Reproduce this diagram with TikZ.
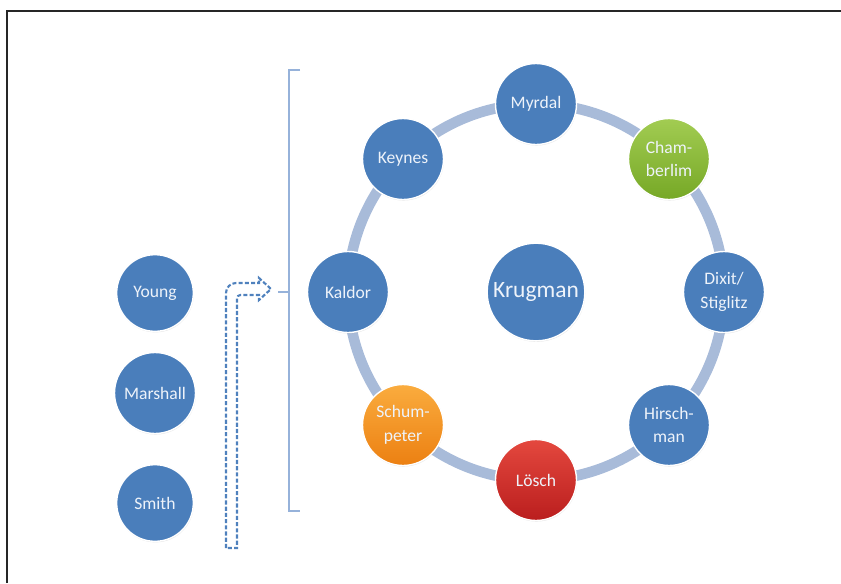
\documentclass[tikz,border=0pt]{standalone}
\usepackage{fontspec}
\setmainfont{Carlito}
\usetikzlibrary{positioning, shadows}
\definecolor{ballblue}{RGB}{74,126,187}
\definecolor{ringblue}{RGB}{168,187,217}
\definecolor{brackblue}{RGB}{150,178,218}
\definecolor{arrblue}{RGB}{79,129,189}
\definecolor{greentop}{RGB}{162,204,82}
\definecolor{greenbot}{RGB}{118,168,38}
\definecolor{orangetop}{RGB}{250,172,62}
\definecolor{orangebot}{RGB}{236,128,18}
\definecolor{redtop}{RGB}{228,72,62}
\definecolor{redbot}{RGB}{186,30,30}
\definecolor{balltext}{RGB}{238,243,250}

\begin{document}
\begin{tikzpicture}[
    x=0.3mm, y=-0.3mm,
    every node/.style={font=\fontsize{15}{20}\selectfont, text=balltext},
    ball/.style={circle, draw=white, line width=1.2pt, fill=ballblue,
        inner sep=0pt, minimum size=24.3mm, align=center,
        drop shadow={opacity=0.2, shadow xshift=0.4pt, shadow yshift=-0.9pt}},
    smallball/.style={ball, minimum size=23mm},
    bigball/.style={ball, minimum size=29.3mm,
        font=\fontsize{20}{22}\selectfont},
    greenball/.style={ball, top color=greentop, bottom color=greenbot},
    orangeball/.style={ball, top color=orangetop, bottom color=orangebot},
    redball/.style={ball, top color=redtop, bottom color=redbot},
    ring/.style={draw=ringblue, line width=9pt},
    brack/.style={draw=brackblue, line width=1pt},
    blockarrow/.style={draw=arrblue, line width=1.8pt,
        dash pattern=on 3.5pt off 1.8pt},
    frameline/.style={draw=black!85, line width=2.4pt},
]
\useasboundingbox (0,0) rectangle (841,583);

% ===== frame (top and left edge only) =====
\draw[frameline] (7,583) -- (7,11) -- (841,11);

% ===== RING =====
\draw[ring] (536,292) circle [radius=56.4mm];
\node[bigball] (krugman) at (536,292) {Krugman};

\node[ball]       (myrdal) at (536,104) {Myrdal};
\node[greenball]  (chamb)  at (669,159) {Cham-\\berlim};
\node[ball]       (dixit)  at (724,292) {Dixit/\\Stiglitz};
\node[ball]       (hirsch) at (669,425) {Hirsch-\\man};
\node[redball]    (loesch) at (536,480) {Lösch};
\node[orangeball] (schump) at (403,425) {Schum-\\peter};
\node[ball]       (kaldor) at (348,292) {Kaldor};
\node[ball]       (keynes) at (403,159) {Keynes};

% ===== LEFT: predecessors =====
\node[smallball] (young)    at (155,293) {Young};
\node[ball]      (marshall) at (155,393) {Marshall};
\node[smallball] (smith)    at (155,503) {Smith};

% ===== bracket round the ring =====
\coordinate (brtop) at (289,70);
\coordinate (brbot) at (289,511);
\coordinate (brmid) at (289,292);
\draw[brack] ([xshift=3.3mm]brtop) -- (brtop) -- (brbot)
    -- ([xshift=3.3mm]brbot);
\draw[brack] (brmid) -- ([xshift=-3.3mm]brmid);

% ===== dashed block arrow up from Smith to the bracket =====
\draw[blockarrow] (226,548) [rounded corners=3mm] -- (226,283)
    [sharp corners] -- (259,283) -- (259,278) -- (271,289)
    -- (259,300) -- (259,295) [rounded corners=1mm] -- (237,295)
    [sharp corners] -- (237,548) -- cycle;

\end{tikzpicture}
\end{document}
